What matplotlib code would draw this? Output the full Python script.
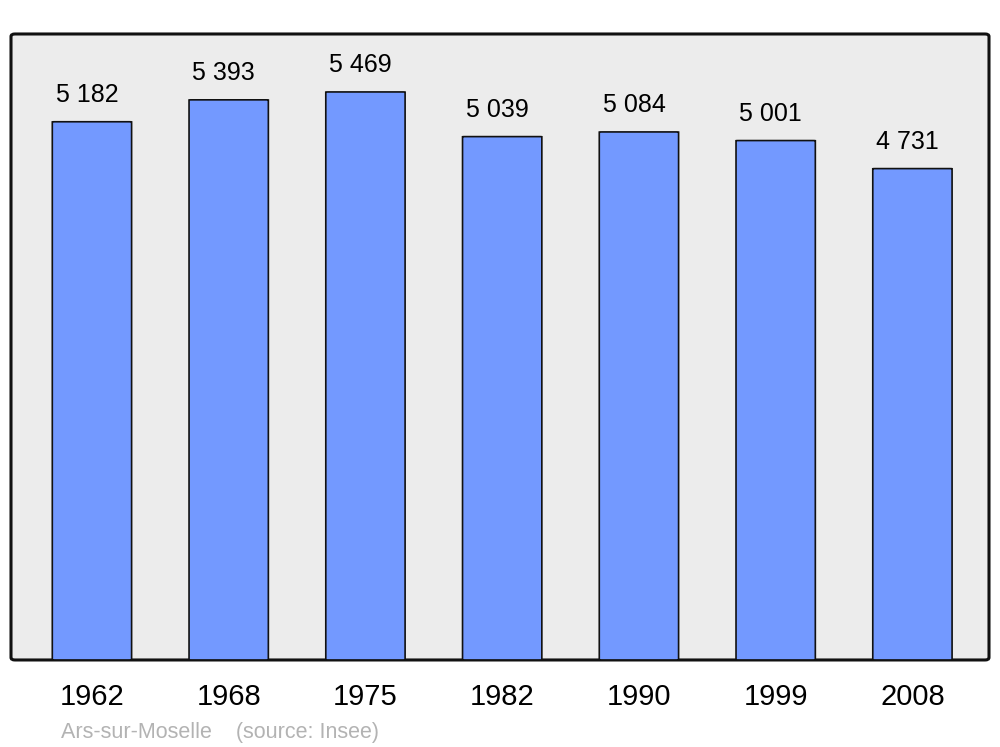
import matplotlib
matplotlib.use("Agg")
import matplotlib.pyplot as plt
from matplotlib.patches import FancyBboxPatch

# Population data (Insee)
years = ["1962", "1968", "1975", "1982", "1990", "1999", "2008"]
population = [5182, 5393, 5469, 5039, 5084, 5001, 4731]
town = "Ars-sur-Moselle"
source = "(source: Insee)"

plt.rcParams["font.family"] = ["Liberation Sans", "DejaVu Sans"]

fig = plt.figure(figsize=(10, 7.47), dpi=100)
ax = fig.add_axes([0.011, 0.1165, 0.978, 0.838])
ax.set_facecolor("none")

# rounded frame with grey background
frame = FancyBboxPatch((0, 0), 1, 1, boxstyle="round,pad=0,rounding_size=0.004",
                       transform=ax.transAxes, facecolor="#ececec", edgecolor="#111111",
                       linewidth=2.2, zorder=0, clip_on=False)
ax.add_patch(frame)

x = list(range(len(years)))
bars = ax.bar(x, population, width=0.58, color="#7399ff", edgecolor="#111111",
              linewidth=1.2, zorder=2)

# swap the square bars for slightly rounded ones, same geometry
for b in bars:
    rb = FancyBboxPatch((b.get_x(), b.get_y()), b.get_width(), b.get_height(),
                        boxstyle="round,pad=0,rounding_size=0.02", mutation_aspect=70,
                        facecolor=b.get_facecolor(), edgecolor=b.get_edgecolor(),
                        linewidth=1.2, zorder=2)
    ax.add_patch(rb)
    b.set_visible(False)

for xi, val in zip(x, population):
    label = f"{val:,}".replace(",", " ")
    ax.annotate(label, (xi, val), xytext=(-3.5, 14), textcoords="offset points",
                ha="center", va="baseline", fontsize=18, color="black")

ax.set_xlim(-0.592, 6.56)
ax.set_ylim(0, 6027)
ax.set_xticks(x)
ax.set_xticklabels(years, fontsize=21)
for lbl in ax.get_xticklabels():
    lbl.set_x(lbl.get_position()[0])
ax.tick_params(axis="x", length=0, pad=16.5)
ax.set_yticks([])
for spine in ax.spines.values():
    spine.set_visible(False)

fig.text(0.061, 0.0125, town + "    " + source, fontsize=15.5, color="#b3b3b3",
         ha="left", va="baseline")

fig.savefig("out.png", dpi=100)
